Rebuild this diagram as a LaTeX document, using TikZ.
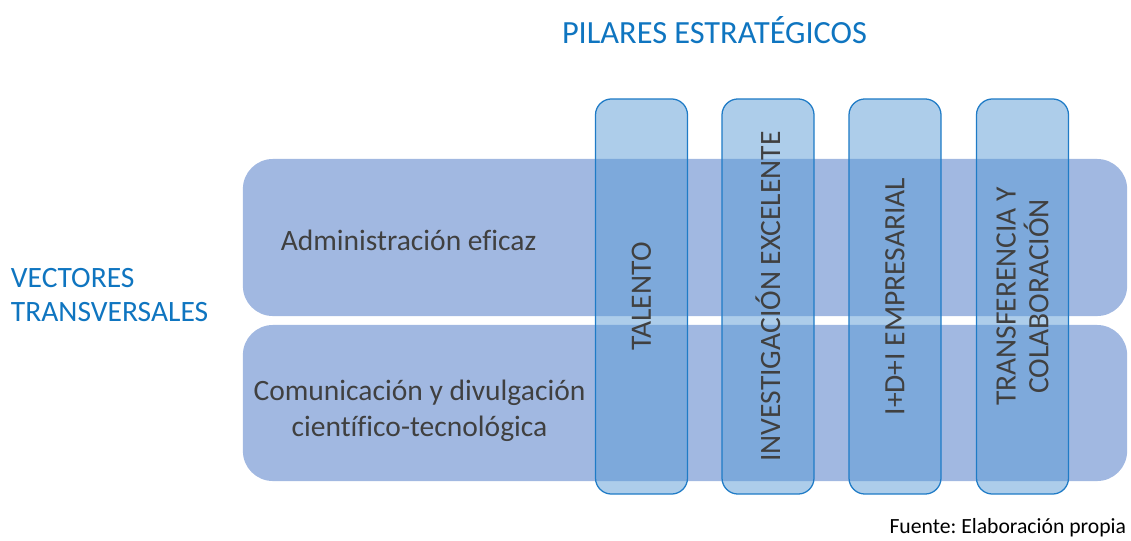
\documentclass[tikz,border=0pt]{standalone}
\usepackage{fontspec}
\setmainfont[Ligatures=NoCommon]{Carlito}
\frenchspacing
\definecolor{barblue}{HTML}{4472C4}
\definecolor{pilarblue}{HTML}{5B9BD5}
\definecolor{edgeblue}{HTML}{1F7BC6}
\definecolor{titleblue}{HTML}{0F75C0}
\definecolor{txtgrey}{HTML}{404040}
\tikzset{
  vector/.style={rectangle, rounded corners=0.75cm, fill=barblue, fill opacity=0.5,
    minimum width=22.1cm, inner sep=0pt},
  pilar/.style={rectangle, rounded corners=0.4cm, draw=edgeblue, line width=0.9pt,
    fill=pilarblue, fill opacity=0.5, draw opacity=1,
    minimum width=2.3cm, minimum height=9.875cm, inner sep=0pt},
  pilartext/.style={rotate=90, text=txtgrey, font=\fontsize{21}{23.4}\selectfont, align=center},
  vectortext/.style={text=txtgrey, font=\fontsize{21}{25.5}\selectfont, align=center},
  heading/.style={text=titleblue, font=\fontsize{21}{24.5}\selectfont, align=left}
}
\begin{document}
\begin{tikzpicture}[x=0.025cm, y=-0.025cm]
\useasboundingbox (0,0) rectangle (1131,540);
% vectores transversales
\node[vector, minimum height=3.925cm] (adm) at (685,237.5) {};
\node[vector, minimum height=3.9cm] (com) at (685,403) {};
% pilares
\node[pilar] (p1) at (641.5,296.5) {};
\node[pilar] (p2) at (768,296.5) {};
\node[pilar] (p3) at (895,296.5) {};
\node[pilar] (p4) at (1022.5,296.5) {};
\node[pilartext] (t1) at (p1) {TALENTO};
\node[pilartext] (t2) at (p2) {INVESTIGACIÓN EXCELENTE};
\node[pilartext] (t3) at (p3) {I+D+I EMPRESARIAL};
\node[pilartext] (t4) at (p4) {TRANSFERENCIA Y\\COLABORACIÓN};
% textos
\node[vectortext] (tadm) at (408.5,240) {Administración eficaz};
\node[vectortext] (tcom) at (419.5,411) {Comunicación y divulgación\\científico-tecnológica};
\node[heading, font=\fontsize{23}{26}\selectfont] (tit) at (714.5,30) {PILARES ESTRATÉGICOS};
\node[heading, anchor=west] (vec) at (6,295) {VECTORES\\TRANSVERSALES};
\node[text=black, font=\fontsize{15.4}{18}\selectfont, anchor=east] (src) at (1131,528) {Fuente: Elaboración propia};
\end{tikzpicture}
\end{document}
